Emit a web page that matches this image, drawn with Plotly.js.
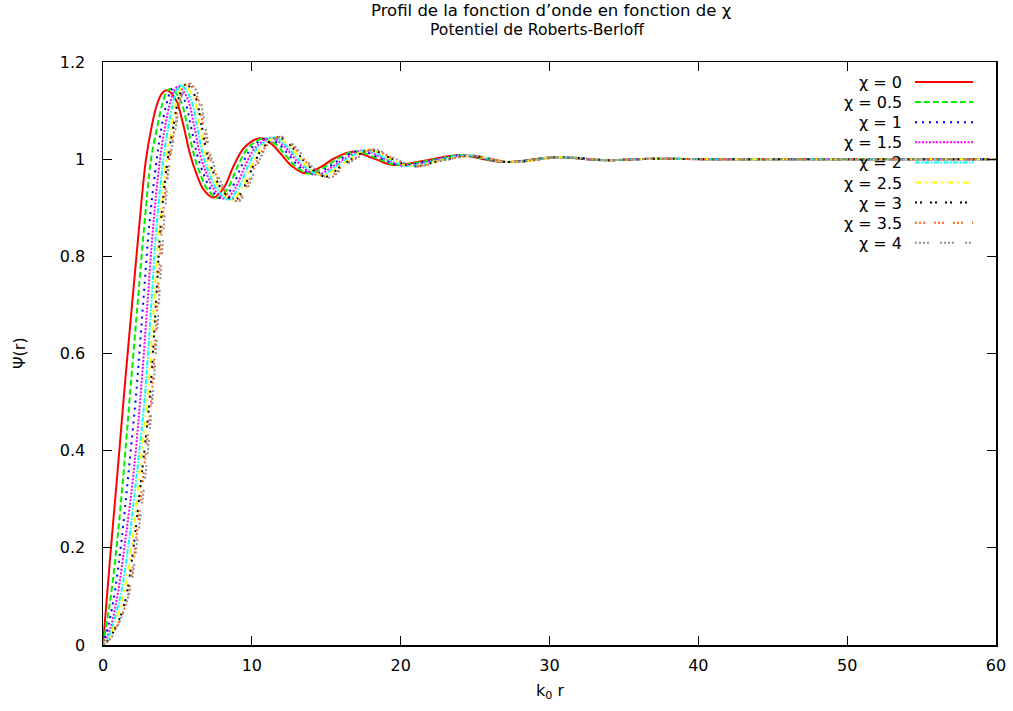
<!DOCTYPE html>
<html>
<head>
<meta charset="utf-8">
<script src="https://cdn.plot.ly/plotly-3.0.1.min.js"></script>
<style>html,body{margin:0;padding:0;background:#fff;}#chart{width:1013px;height:711px;}</style>
</head>
<body>
<div id="chart"></div>
<script>
// Series labels
const labels = ["χ = 0", "χ = 0.5", "χ = 1", "χ = 1.5", "χ = 2", "χ = 2.5", "χ = 3", "χ = 3.5", "χ = 4"];

// Values (k0 r, Psi(r))
const x_chi0 = [0, 0.3, 0.58, 0.96, 1.41, 1.95, 2.44, 2.89, 3.27, 3.6, 3.95, 4.28, 4.9, 5.4, 5.85, 6.3, 6.75, 7.41, 8.1, 8.76, 9.5, 10.55, 11.3, 12.0, 12.68, 13.58, 14.7, 15.5, 16.7, 18.3, 19.5, 21.8, 23.9, 26.9, 30.3, 33.5, 37, 40.5, 45, 50, 60];
const y_chi0 = [0, 0.113, 0.216, 0.35, 0.515, 0.70, 0.865, 1.0, 1.067, 1.11, 1.135, 1.142, 1.122, 1.07, 1.01, 0.968, 0.938, 0.921, 0.94, 0.985, 1.024, 1.043, 1.032, 1.009, 0.986, 0.971, 0.985, 1.001, 1.015, 1.0, 0.988, 0.998, 1.008, 0.994, 1.004, 0.998, 1.001, 1.0, 1.0, 1.0, 1.0];

const x_chi05 = [0, 0.3, 0.58, 0.96, 1.37, 1.81, 2.32, 2.78, 3.23, 3.65, 3.97, 4.27, 4.55, 5.18, 5.66, 6.1, 6.55, 7.01, 7.71, 8.39, 9.04, 9.77, 10.81, 11.55, 12.25, 12.92, 13.88, 14.97, 15.77, 16.96, 18.55, 19.77, 22.02, 24.08, 27.0, 30.4, 33.6, 37, 40.5, 45, 50, 60];
const y_chi05 = [0, 0.055, 0.113, 0.216, 0.35, 0.515, 0.70, 0.865, 1.0, 1.067, 1.112, 1.138, 1.145, 1.123, 1.07, 1.01, 0.968, 0.938, 0.920, 0.94, 0.985, 1.024, 1.043, 1.032, 1.009, 0.986, 0.970, 0.985, 1.001, 1.016, 1.0, 0.988, 0.998, 1.008, 0.994, 1.004, 0.998, 1.001, 1.0, 1.0, 1.0, 1.0];

const x_chi1 = [0, 0.4, 0.81, 1.25, 1.70, 2.22, 2.69, 3.11, 3.61, 3.94, 4.27, 4.54, 4.8, 5.43, 5.89, 6.32, 6.78, 7.24, 7.98, 8.64, 9.29, 10.01, 11.04, 11.78, 12.47, 13.14, 14.15, 15.21, 16.01, 17.2, 18.78, 20.01, 22.21, 24.24, 27.1, 30.5, 33.7, 37, 40.5, 45, 50, 60];
const y_chi1 = [0, 0.045, 0.113, 0.216, 0.35, 0.515, 0.70, 0.865, 1.0, 1.067, 1.114, 1.14, 1.148, 1.125, 1.07, 1.01, 0.968, 0.938, 0.919, 0.94, 0.985, 1.024, 1.044, 1.032, 1.009, 0.986, 0.969, 0.985, 1.001, 1.017, 1.0, 0.987, 0.998, 1.008, 0.994, 1.004, 0.998, 1.001, 1.0, 1.0, 1.0, 1.0];

const x_chi15 = [0, 0.5, 1.03, 1.5, 2.04, 2.53, 2.98, 3.38, 3.83, 4.17, 4.5, 4.79, 5.05, 5.66, 6.11, 6.52, 6.99, 7.46, 8.23, 8.88, 9.53, 10.24, 11.26, 11.99, 12.68, 13.34, 14.4, 15.44, 16.24, 17.42, 18.99, 20.24, 22.39, 24.39, 27.2, 30.55, 33.8, 37, 40.5, 45, 50, 60];
const y_chi15 = [0, 0.035, 0.113, 0.216, 0.35, 0.515, 0.70, 0.865, 1.0, 1.067, 1.115, 1.142, 1.150, 1.126, 1.07, 1.01, 0.968, 0.938, 0.918, 0.94, 0.985, 1.024, 1.044, 1.032, 1.009, 0.986, 0.968, 0.985, 1.001, 1.018, 1.0, 0.987, 0.998, 1.008, 0.994, 1.004, 0.998, 1.001, 1.0, 1.0, 1.0, 1.0];

const x_chi2 = [0, 0.3, 0.7, 1.25, 1.75, 2.26, 2.82, 3.24, 3.61, 4.05, 4.39, 4.7, 5.0, 5.25, 5.86, 6.3, 6.7, 7.17, 7.65, 8.45, 9.09, 9.73, 10.43, 11.45, 12.17, 12.86, 13.51, 14.62, 15.63, 16.43, 17.61, 19.17, 20.43, 22.54, 24.52, 27.27, 30.6, 33.9, 37, 40.5, 45, 50, 60];
const y_chi2 = [0, 0.012, 0.045, 0.113, 0.216, 0.35, 0.515, 0.70, 0.865, 1.0, 1.067, 1.116, 1.144, 1.152, 1.127, 1.07, 1.01, 0.968, 0.938, 0.917, 0.94, 0.985, 1.024, 1.045, 1.032, 1.009, 0.986, 0.967, 0.985, 1.001, 1.018, 1.0, 0.986, 0.998, 1.008, 0.994, 1.004, 0.998, 1.001, 1.0, 1.0, 1.0, 1.0];

const x_chi25 = [0, 0.35, 0.8, 1.43, 1.98, 2.44, 3.0, 3.42, 3.79, 4.25, 4.62, 4.92, 5.2, 5.45, 6.06, 6.49, 6.88, 7.35, 7.84, 8.67, 9.3, 9.94, 10.63, 11.64, 12.35, 13.04, 13.69, 14.83, 15.83, 16.63, 17.8, 19.35, 20.63, 22.7, 24.65, 27.35, 30.65, 34.0, 37, 40.5, 45, 50, 60];
const y_chi25 = [0, 0.012, 0.045, 0.113, 0.216, 0.35, 0.515, 0.70, 0.865, 1.0, 1.067, 1.117, 1.145, 1.153, 1.128, 1.07, 1.01, 0.968, 0.938, 0.916, 0.94, 0.985, 1.024, 1.045, 1.032, 1.009, 0.986, 0.966, 0.985, 1.001, 1.019, 1.0, 0.986, 0.998, 1.007, 0.994, 1.004, 0.998, 1.001, 1.0, 1.0, 1.0, 1.0];

const x_chi3 = [0, 0.4, 0.9, 1.3, 1.64, 2.11, 2.6, 3.16, 3.55, 3.88, 4.35, 4.73, 5.03, 5.33, 5.6, 6.2, 6.62, 7.0, 7.48, 7.97, 8.82, 9.44, 10.08, 10.76, 11.77, 12.48, 13.16, 13.81, 14.98, 15.96, 16.76, 17.93, 19.48, 20.76, 22.81, 24.74, 27.4, 30.7, 34.0, 37, 40.5, 45, 50, 60];
const y_chi3 = [0, 0.012, 0.04, 0.07, 0.113, 0.216, 0.35, 0.515, 0.70, 0.865, 1.0, 1.067, 1.118, 1.146, 1.154, 1.129, 1.07, 1.01, 0.968, 0.938, 0.915, 0.94, 0.985, 1.024, 1.045, 1.032, 1.009, 0.986, 0.964, 0.985, 1.001, 1.019, 1.0, 0.985, 0.998, 1.007, 0.994, 1.004, 0.998, 1.001, 1.0, 1.0, 1.0, 1.0];

const x_chi35 = [0, 0.45, 0.95, 1.4, 1.77, 2.22, 2.71, 3.27, 3.65, 3.97, 4.45, 4.84, 5.12, 5.43, 5.72, 6.33, 6.73, 7.11, 7.59, 8.08, 8.96, 9.57, 10.2, 10.88, 11.88, 12.59, 13.27, 13.91, 15.12, 16.08, 16.88, 18.05, 19.59, 20.88, 22.9, 24.82, 27.45, 30.75, 34.1, 37, 40.5, 45, 50, 60];
const y_chi35 = [0, 0.012, 0.04, 0.072, 0.115, 0.216, 0.35, 0.515, 0.70, 0.865, 1.0, 1.067, 1.119, 1.146, 1.155, 1.129, 1.07, 1.01, 0.968, 0.938, 0.914, 0.94, 0.985, 1.024, 1.046, 1.032, 1.009, 0.986, 0.963, 0.985, 1.001, 1.020, 1.0, 0.985, 0.998, 1.007, 0.994, 1.004, 0.998, 1.001, 1.0, 1.0, 1.0, 1.0];

const x_chi4 = [0, 0.5, 1.0, 1.45, 1.86, 2.31, 2.85, 3.35, 3.75, 4.1, 4.5, 4.9, 5.2, 5.53, 5.85, 6.45, 6.85, 7.22, 7.7, 8.2, 9.09, 9.7, 10.33, 11.0, 12.0, 12.7, 13.38, 14.02, 15.25, 16.2, 17.0, 18.17, 19.7, 21.0, 23.0, 24.9, 27.5, 30.8, 34.1, 37, 40.5, 45, 50, 60];
const y_chi4 = [0, 0.012, 0.04, 0.074, 0.12, 0.216, 0.35, 0.515, 0.70, 0.865, 1.0, 1.067, 1.12, 1.147, 1.156, 1.13, 1.07, 1.01, 0.968, 0.938, 0.913, 0.94, 0.985, 1.024, 1.046, 1.032, 1.009, 0.986, 0.962, 0.985, 1.001, 1.020, 1.0, 0.985, 0.998, 1.007, 0.994, 1.004, 0.998, 1.001, 1.0, 1.0, 1.0, 1.0];

const xTicks = [0, 10, 20, 30, 40, 50, 60];
const yTicks = [0, 0.2, 0.4, 0.6, 0.8, 1, 1.2];

const xs = [x_chi0, x_chi05, x_chi1, x_chi15, x_chi2, x_chi25, x_chi3, x_chi35, x_chi4];
const ys = [y_chi0, y_chi05, y_chi1, y_chi15, y_chi2, y_chi25, y_chi3, y_chi35, y_chi4];

const colors = ["#ff0000", "#00ee00", "#0000ff", "#ff00ff", "#00ffff", "#ffff00", "#000000", "#ff6420", "#909090"];
const dashes = ["solid", "6px,3px", "2px,5px", "2px,1.5px", "5px,1.5px,1.5px,1.5px", "6px,4px,2px,4px", "2px,3px,2px,8px", "2px,2px,2px,2px,2px,9px", "2px,2px,2px,2px,2px,2px,2px,11px"];

const FONT = "DejaVu Sans, Liberation Sans, Arial, sans-serif";
const FS = 16;

const traces = xs.map((x, i) => ({
  type: "scatter", mode: "lines", x: x, y: ys[i], name: labels[i],
  line: {color: colors[i], width: 2, dash: dashes[i], shape: "spline", smoothing: 1},
  showlegend: false, hoverinfo: "skip"
}));

// Plot area in pixels
const L = 103, R = 996, T = 62, B = 645;
const W = 1013, H = 711;
const px2x = p => (p - L) / (R - L);
const py2y = p => (B - p) / (B - T);

const annotations = [];
const shapes = [];
labels.forEach((lab, i) => {
  const py = 82 + i * 20.1;
  annotations.push({
    xref: "paper", yref: "paper", x: px2x(903), y: py2y(py),
    xanchor: "right", yanchor: "middle", text: lab, showarrow: false,
    height: 18, borderpad: 0,
    font: {family: FONT, size: FS, color: "#000"}
  });
  shapes.push({
    type: "line", xref: "paper", yref: "paper",
    x0: px2x(915), x1: px2x(973), y0: py2y(py), y1: py2y(py),
    line: {color: colors[i], width: 2, dash: dashes[i]}
  });
});

// Titles
annotations.push({xref: "paper", yref: "paper", x: px2x(551), y: py2y(10.5), xanchor: "center", yanchor: "middle",
  height: 17, borderpad: 0,
  text: "Profil de la fonction d’onde en fonction de χ", showarrow: false, font: {family: FONT, size: 16.5, color: "#000"}});
annotations.push({xref: "paper", yref: "paper", x: px2x(537), y: py2y(30), xanchor: "center", yanchor: "middle",
  height: 17, borderpad: 0,
  text: "Potentiel de Roberts-Berloff", showarrow: false, font: {family: FONT, size: 15.6, color: "#000"}});
annotations.push({xref: "paper", yref: "paper", x: px2x(550), y: py2y(691), xanchor: "center", yanchor: "middle",
  text: "k<sub>0</sub> r", showarrow: false, font: {family: FONT, size: FS, color: "#000"}});
annotations.push({xref: "paper", yref: "paper", x: px2x(19), y: py2y(353), xanchor: "center", yanchor: "middle",
  text: "Ψ(r)", textangle: -90, showarrow: false, font: {family: FONT, size: FS, color: "#000"}});

const layout = {
  width: W, height: H,
  margin: {l: L, r: W - R, t: T, b: H - B, pad: 0},
  paper_bgcolor: "#fff", plot_bgcolor: "#fff",
  font: {family: FONT, size: FS, color: "#000"},
  xaxis: {
    range: [0, 60], tickvals: xTicks, ticktext: xTicks.map(String),
    showgrid: false, zeroline: false, showline: true, mirror: "ticks",
    linecolor: "#000", linewidth: 1.5, ticks: "inside", ticklen: 9, tickwidth: 1, tickcolor: "#000",
    tickfont: {family: FONT, size: FS}, ticklabelstandoff: 5
  },
  yaxis: {
    range: [0, 1.2], tickvals: yTicks, ticktext: yTicks.map(String),
    showgrid: false, zeroline: false, showline: true, mirror: "ticks",
    linecolor: "#000", linewidth: 1.5, ticks: "inside", ticklen: 9, tickwidth: 1, tickcolor: "#000",
    tickfont: {family: FONT, size: FS}, ticklabelstandoff: 13
  },
  annotations: annotations,
  shapes: shapes
};

Plotly.newPlot("chart", traces, layout, {staticPlot: true, displayModeBar: false});
</script>
</body>
</html>
